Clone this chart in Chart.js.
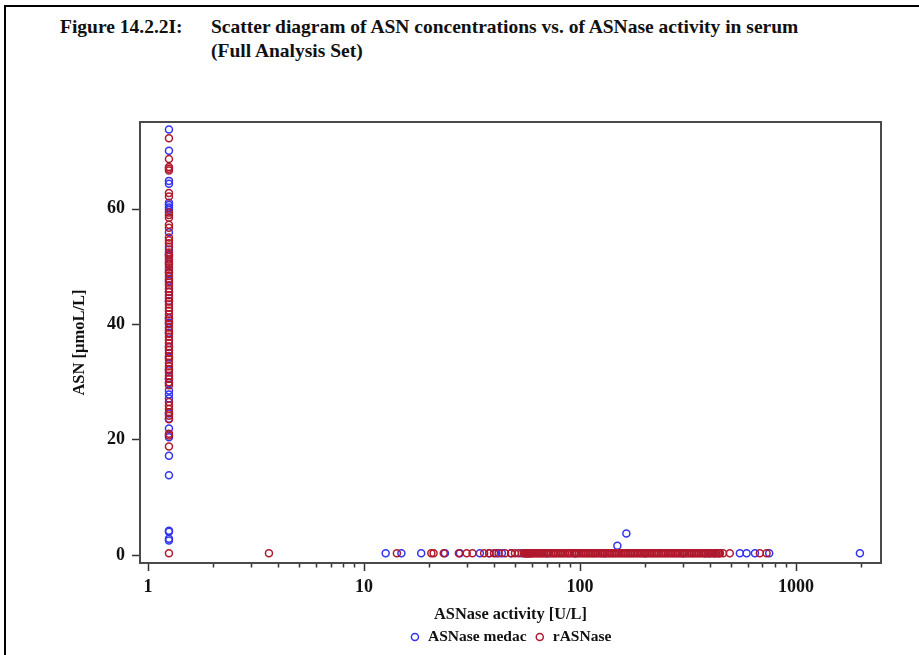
<!DOCTYPE html>
<html>
<head>
<meta charset="utf-8">
<script src="https://cdn.jsdelivr.net/npm/chart.js@4.4.1/dist/chart.umd.min.js"></script>
<style>
  body { margin: 0; background: #fff; }
  #page { position: relative; width: 919px; height: 655px; overflow: hidden; }
  #frame { position: absolute; left: 4px; top: 5px; width: 930px; height: 700px; border-top: 2px solid #000; border-left: 2px solid #000; }
  .ttl { position: absolute; font: bold 19.5px "Liberation Serif", "Times New Roman", serif; line-height: 24px; color: #111; white-space: nowrap; }
  #myChart { position: absolute; left: 0; top: 0; }
</style>
</head>
<body>
<div id="page">
  <div id="frame"></div>
  <div class="ttl" style="left:60px; top:15px">Figure 14.2.2I:</div>
  <div class="ttl" style="left:211px; top:15px">Scatter diagram of ASN concentrations vs. of ASNase activity in serum</div>
  <div class="ttl" style="left:211px; top:39px">(Full Analysis Set)</div>
  <canvas id="myChart" width="919" height="655"></canvas>
</div>
<script>
var seriesNames = ["ASNase medac", "rASNase"];
var seriesColors = ["#3333f0", "#b0182c"];

// samples below the limit of quantification sit in a column at 1.25 U/L
var lowActivity = 1.25;
var medacColumnAsn = [73.7, 70.0, 64.8, 64.3, 61.0, 60.6, 60.2, 59.8, 55.9, 52.9, 52.0, 50.5, 49.0, 47.5,
    45.6, 44.0, 41.0, 40.2, 38.5, 36.0, 34.2, 32.0, 30.5, 29.8, 28.5, 27.8, 27.1, 24.5, 23.6, 21.9, 20.4,
    17.2, 13.8, 4.2, 4.0, 2.8, 2.5];
var rasnColumnAsn = [72.2, 68.6, 67.2, 66.9, 66.6, 62.7, 62.1, 59.3, 58.9, 58.4, 57.2, 56.7, 55.0, 54.5,
    54.0, 53.4, 52.4, 52.0, 51.6, 51.2, 50.8, 50.3, 49.8, 49.4, 48.9, 48.3, 47.8, 47.2, 46.7, 46.1, 45.6,
    45.0, 44.5, 43.9, 43.4, 42.8, 42.3, 41.7, 41.1, 40.6, 40.0, 39.4, 38.9, 38.3, 37.8, 37.2, 36.7, 36.1,
    35.5, 35.0, 34.4, 33.9, 33.3, 32.7, 32.2, 31.6, 31.0, 30.5, 29.9, 29.4, 26.5, 25.9, 25.3, 24.7, 24.1,
    23.5, 21.0, 20.7, 18.8, 0.3];

// samples with measurable activity, ASN at ~0.3 umol/L
var depletedAsn = 0.3;
var medacActivity = [12.6, 14.9, 18.4, 23.7, 27.8, 34.4, 38, 41, 43.5, 48, 53.8, 70, 95, 130, 200, 300,
    380, 398, 420, 550, 591, 646, 752, 1978];
var rasnActivity = [3.63, 14.2, 20.5, 21.0, 23.4, 27.5, 29.9, 31.8, 36, 38, 40, 42, 45, 48, 50, 52,
    55, 55.5, 56, 56.5, 57, 57.5, 58, 58.5, 59, 59.5, 60, 61, 62, 63, 64, 65, 66, 67, 68, 69.5, 71, 72,
    73.5, 75, 76, 77.5, 79, 80.5, 82, 83.5, 85, 87, 88.5, 90, 92, 94, 95.5, 97, 99, 101, 103, 105, 107,
    109, 111, 113, 115, 117, 119, 121.5, 124, 126, 128.5, 131, 133.5, 136, 138, 141, 143.5, 146, 149,
    152, 155, 158, 161, 164, 167, 170, 173, 176, 179, 183, 186, 190, 193, 197, 201, 204, 208, 212, 216,
    220, 224, 228, 232, 237, 241, 246, 250, 255, 260, 265, 270, 275, 280, 285, 290, 296, 302, 307, 313,
    319, 325, 331, 337, 343, 350, 356, 363, 370, 377, 384, 391, 398, 406, 414, 421, 429, 437, 441, 445,
    460, 494, 681, 731];

// the two medac samples with measurable ASN and activity
var medacExtraActivity = [149, 164];
var medacExtraAsn = [1.6, 3.7];

var xTickLabels = [1, 10, 100, 1000];
var xMinorTicks = [2, 3, 4, 5, 6, 7, 8, 9, 20, 30, 40, 50, 60, 70, 80, 90, 200, 300, 400, 500, 600, 700, 800, 900, 2000];
var yTickLabels = [0, 20, 40, 60];

function points(xs, ys) {
    var out = [];
    for (var i = 0; i < xs.length; i++) out.push({ x: xs[i], y: ys[i] });
    return out;
}
function column(x, ys) {
    return ys.map(function (y) { return { x: x, y: y } });
}
function row(xs, y) {
    return xs.map(function (x) { return { x: x, y: y } });
}

var medacData = column(lowActivity, medacColumnAsn)
    .concat(row(medacActivity, depletedAsn))
    .concat(points(medacExtraActivity, medacExtraAsn));
var rasnData = column(lowActivity, rasnColumnAsn).concat(row(rasnActivity, depletedAsn));

const serif = '"Liberation Serif", "Times New Roman", serif';

// frame around the plot and tick marks (major/minor lengths differ)
const frameTicks = {
    id: 'frameTicks',
    afterDraw(chart) {
        const ctx = chart.ctx
        const a = chart.chartArea
        const xs = chart.scales.x
        const ys = chart.scales.y
        ctx.save()
        ctx.strokeStyle = '#333'
        ctx.lineWidth = 1.5
        xs.ticks.forEach(t => {
            const px = Math.round(xs.getPixelForValue(t.value)) + 0.5
            const len = xTickLabels.includes(t.value) ? 8 : 4.5
            ctx.beginPath()
            ctx.moveTo(px, a.bottom)
            ctx.lineTo(px, a.bottom + len)
            ctx.stroke()
        })
        ys.ticks.forEach(t => {
            const py = Math.round(ys.getPixelForValue(t.value)) + 0.5
            ctx.beginPath()
            ctx.moveTo(a.left, py)
            ctx.lineTo(a.left - 8, py)
            ctx.stroke()
        })
        ctx.strokeStyle = '#4a4a4a'
        ctx.lineWidth = 2
        ctx.strokeRect(a.left, a.top, a.right - a.left, a.bottom - a.top)
        ctx.restore()
    }
}

new Chart("myChart", {
    type: "scatter",
    data: {
        datasets: [{
            label: seriesNames[0],
            data: medacData,
            borderColor: seriesColors[0],
            backgroundColor: 'rgba(0,0,0,0)',
            pointRadius: 3.5,
            borderWidth: 1.5,
            order: 1
        }, {
            label: seriesNames[1],
            data: rasnData,
            borderColor: seriesColors[1],
            backgroundColor: 'rgba(0,0,0,0)',
            pointRadius: 3.5,
            borderWidth: 1.5,
            order: 0
        }]
    },
    options: {
        responsive: false,
        animation: false,
        devicePixelRatio: 1,
        layout: { padding: { left: 0, top: 122, right: 38, bottom: 0.25 } },
        scales: {
            x: {
                type: 'logarithmic',
                min: 0.918,
                max: 2477,
                grid: { display: false },
                border: { display: false },
                afterBuildTicks: scale => {
                    scale.ticks = xTickLabels.concat(xMinorTicks).sort((a, b) => a - b).map(v => ({ value: v }))
                },
                afterFit: scale => { scale.height = 58.25 },
                ticks: {
                    autoSkip: false,
                    maxRotation: 0,
                    padding: 5.5,
                    color: '#111',
                    font: { family: serif, size: 18, weight: 'bold' },
                    callback: v => xTickLabels.includes(v) ? String(v) : ''
                },
                title: {
                    display: true,
                    text: 'ASNase activity [U/L]',
                    color: '#111',
                    font: { family: serif, size: 16.4, weight: 'bold', lineHeight: 1 },
                    padding: { top: 0, bottom: -2 }
                }
            },
            y: {
                min: -1.4,
                max: 75,
                grid: { display: false },
                border: { display: false },
                afterBuildTicks: scale => {
                    scale.ticks = yTickLabels.map(v => ({ value: v }))
                },
                afterFit: scale => { scale.width = 140 },
                ticks: {
                    padding: 7,
                    color: '#111',
                    font: { family: serif, size: 18, weight: 'bold' }
                },
                title: {
                    display: true,
                    text: 'ASN [µmoL/L]',
                    color: '#111',
                    font: { family: serif, size: 16.5, weight: 'bold', lineHeight: 1.2 },
                    padding: { top: 70.1, bottom: 0 }
                }
            }
        },
        plugins: {
            legend: {
                position: 'bottom',
                fullSize: false,
                labels: {
                    usePointStyle: true,
                    pointStyle: 'circle',
                    boxWidth: 10.5,
                    boxHeight: 5,
                    padding: 8,
                    color: '#111',
                    font: { family: serif, size: 15.5, weight: 'bold' },
                    sort: (a, b) => a.datasetIndex - b.datasetIndex
                }
            },
            tooltip: { enabled: false }
        }
    },
    plugins: [frameTicks]
});
</script>
</body>
</html>
